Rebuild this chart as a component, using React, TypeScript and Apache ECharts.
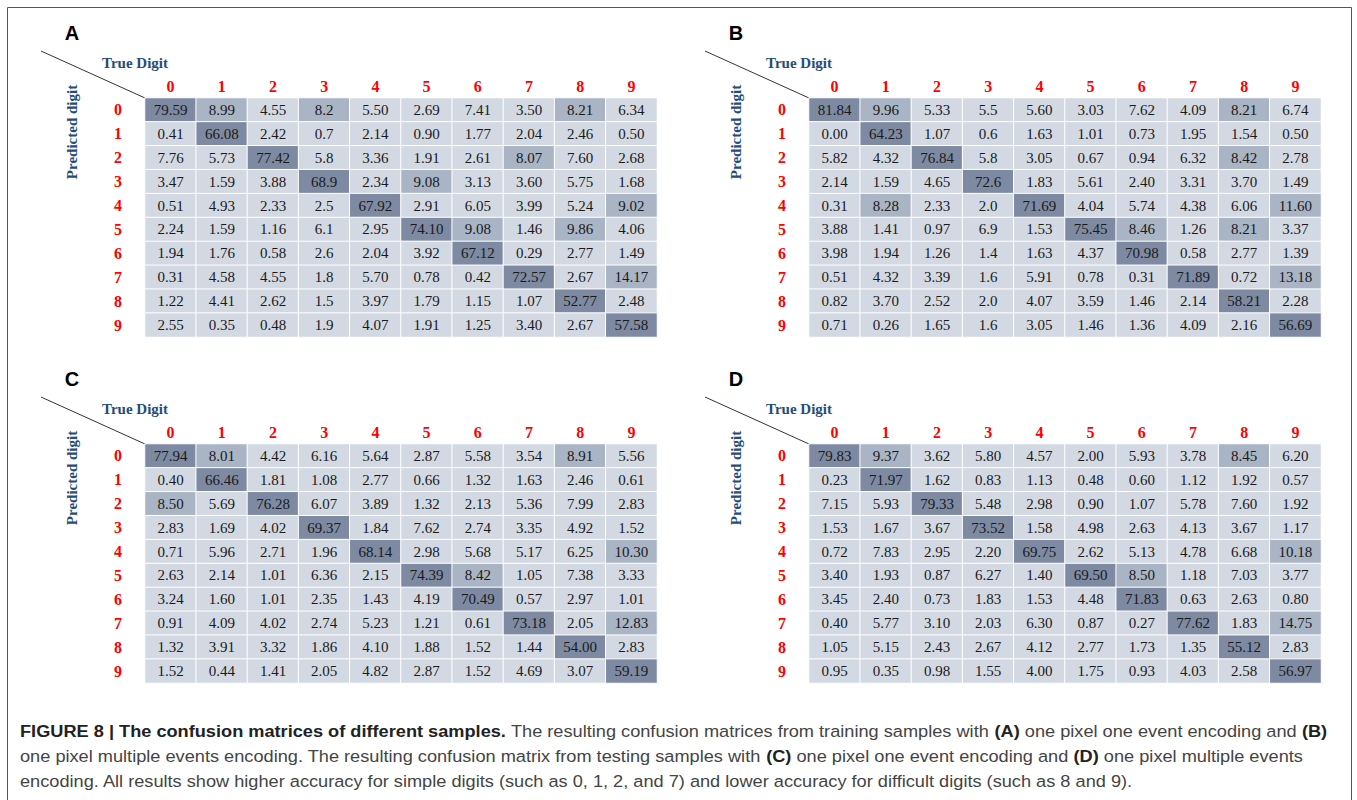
import React, { useEffect, useRef } from "react";
import * as echarts from "echarts";

const digits = ["0", "1", "2", "3", "4", "5", "6", "7", "8", "9"];
const panelLetters = ["A", "B", "C", "D"];

const matrixA = [
  ["79.59", "8.99", "4.55", "8.2", "5.50", "2.69", "7.41", "3.50", "8.21", "6.34"],
  ["0.41", "66.08", "2.42", "0.7", "2.14", "0.90", "1.77", "2.04", "2.46", "0.50"],
  ["7.76", "5.73", "77.42", "5.8", "3.36", "1.91", "2.61", "8.07", "7.60", "2.68"],
  ["3.47", "1.59", "3.88", "68.9", "2.34", "9.08", "3.13", "3.60", "5.75", "1.68"],
  ["0.51", "4.93", "2.33", "2.5", "67.92", "2.91", "6.05", "3.99", "5.24", "9.02"],
  ["2.24", "1.59", "1.16", "6.1", "2.95", "74.10", "9.08", "1.46", "9.86", "4.06"],
  ["1.94", "1.76", "0.58", "2.6", "2.04", "3.92", "67.12", "0.29", "2.77", "1.49"],
  ["0.31", "4.58", "4.55", "1.8", "5.70", "0.78", "0.42", "72.57", "2.67", "14.17"],
  ["1.22", "4.41", "2.62", "1.5", "3.97", "1.79", "1.15", "1.07", "52.77", "2.48"],
  ["2.55", "0.35", "0.48", "1.9", "4.07", "1.91", "1.25", "3.40", "2.67", "57.58"],
];

const matrixB = [
  ["81.84", "9.96", "5.33", "5.5", "5.60", "3.03", "7.62", "4.09", "8.21", "6.74"],
  ["0.00", "64.23", "1.07", "0.6", "1.63", "1.01", "0.73", "1.95", "1.54", "0.50"],
  ["5.82", "4.32", "76.84", "5.8", "3.05", "0.67", "0.94", "6.32", "8.42", "2.78"],
  ["2.14", "1.59", "4.65", "72.6", "1.83", "5.61", "2.40", "3.31", "3.70", "1.49"],
  ["0.31", "8.28", "2.33", "2.0", "71.69", "4.04", "5.74", "4.38", "6.06", "11.60"],
  ["3.88", "1.41", "0.97", "6.9", "1.53", "75.45", "8.46", "1.26", "8.21", "3.37"],
  ["3.98", "1.94", "1.26", "1.4", "1.63", "4.37", "70.98", "0.58", "2.77", "1.39"],
  ["0.51", "4.32", "3.39", "1.6", "5.91", "0.78", "0.31", "71.89", "0.72", "13.18"],
  ["0.82", "3.70", "2.52", "2.0", "4.07", "3.59", "1.46", "2.14", "58.21", "2.28"],
  ["0.71", "0.26", "1.65", "1.6", "3.05", "1.46", "1.36", "4.09", "2.16", "56.69"],
];

const matrixC = [
  ["77.94", "8.01", "4.42", "6.16", "5.64", "2.87", "5.58", "3.54", "8.91", "5.56"],
  ["0.40", "66.46", "1.81", "1.08", "2.77", "0.66", "1.32", "1.63", "2.46", "0.61"],
  ["8.50", "5.69", "76.28", "6.07", "3.89", "1.32", "2.13", "5.36", "7.99", "2.83"],
  ["2.83", "1.69", "4.02", "69.37", "1.84", "7.62", "2.74", "3.35", "4.92", "1.52"],
  ["0.71", "5.96", "2.71", "1.96", "68.14", "2.98", "5.68", "5.17", "6.25", "10.30"],
  ["2.63", "2.14", "1.01", "6.36", "2.15", "74.39", "8.42", "1.05", "7.38", "3.33"],
  ["3.24", "1.60", "1.01", "2.35", "1.43", "4.19", "70.49", "0.57", "2.97", "1.01"],
  ["0.91", "4.09", "4.02", "2.74", "5.23", "1.21", "0.61", "73.18", "2.05", "12.83"],
  ["1.32", "3.91", "3.32", "1.86", "4.10", "1.88", "1.52", "1.44", "54.00", "2.83"],
  ["1.52", "0.44", "1.41", "2.05", "4.82", "2.87", "1.52", "4.69", "3.07", "59.19"],
];

const matrixD = [
  ["79.83", "9.37", "3.62", "5.80", "4.57", "2.00", "5.93", "3.78", "8.45", "6.20"],
  ["0.23", "71.97", "1.62", "0.83", "1.13", "0.48", "0.60", "1.12", "1.92", "0.57"],
  ["7.15", "5.93", "79.33", "5.48", "2.98", "0.90", "1.07", "5.78", "7.60", "1.92"],
  ["1.53", "1.67", "3.67", "73.52", "1.58", "4.98", "2.63", "4.13", "3.67", "1.17"],
  ["0.72", "7.83", "2.95", "2.20", "69.75", "2.62", "5.13", "4.78", "6.68", "10.18"],
  ["3.40", "1.93", "0.87", "6.27", "1.40", "69.50", "8.50", "1.18", "7.03", "3.77"],
  ["3.45", "2.40", "0.73", "1.83", "1.53", "4.48", "71.83", "0.63", "2.63", "0.80"],
  ["0.40", "5.77", "3.10", "2.03", "6.30", "0.87", "0.27", "77.62", "1.83", "14.75"],
  ["1.05", "5.15", "2.43", "2.67", "4.12", "2.77", "1.73", "1.35", "55.12", "2.83"],
  ["0.95", "0.35", "0.98", "1.55", "4.00", "1.75", "0.93", "4.03", "2.58", "56.97"],
];

const matrices = [matrixA, matrixB, matrixC, matrixD];

const captionLines = [
  "{b|FIGURE 8 | The confusion matrices of different samples.} The resulting confusion matrices from training samples with {b|(A)} one pixel one event encoding and {b|(B)}",
  "one pixel multiple events encoding. The resulting confusion matrix from testing samples with {b|(C)} one pixel one event encoding and {b|(D)} one pixel multiple events",
  "encoding. All results show higher accuracy for simple digits (such as 0, 1, 2, and 7) and lower accuracy for difficult digits (such as 8 and 9).",
];

const SERIF = "'Liberation Serif', 'Times New Roman', serif";
const SANS = "'Liberation Sans', Arial, sans-serif";

export default function App() {
  const ref = useRef<HTMLDivElement>(null);

  useEffect(() => {
    if (!ref.current) return;
    const chart = echarts.init(ref.current, null, { renderer: "svg" });

    const lefts = [145, 809, 145, 809];
    const tops = [98, 98, 444, 444];
    const W = 512;
    const H = 239;

    const grids = lefts.map((l, i) => ({ left: l, top: tops[i], width: W, height: H }));

    const xAxes = grids.map((_, i) => ({
      type: "category",
      gridIndex: i,
      position: "top",
      data: digits,
      axisLine: { show: false },
      axisTick: { show: false },
      splitLine: { show: false },
      axisLabel: {
        color: "#ff0000",
        fontFamily: SERIF,
        fontWeight: "bold",
        fontSize: 16,
        margin: 4,
      },
    }));

    const yAxes = grids.map((_, i) => ({
      type: "category",
      gridIndex: i,
      inverse: true,
      data: digits,
      axisLine: { show: false },
      axisTick: { show: false },
      splitLine: { show: false },
      axisLabel: {
        color: "#ff0000",
        fontFamily: SERIF,
        fontWeight: "bold",
        fontSize: 16,
        margin: 23,
      },
    }));

    const series = matrices.map((m, k) => {
      const data: any[] = [];
      m.forEach((row, i) =>
        row.forEach((s, j) => {
          data.push([j, i, parseFloat(s)]);
        })
      );
      return {
        type: "heatmap",
        xAxisIndex: k,
        yAxisIndex: k,
        data,
        itemStyle: { borderColor: "#ffffff", borderWidth: 1 },
        label: {
          show: true,
          color: "#1a1a1a",
          fontFamily: SERIF,
          fontSize: 15,
          formatter: (p: any) => m[p.value[1]][p.value[0]],
        },
        emphasis: { disabled: true },
      };
    });

    const graphics: any[] = [];
    lefts.forEach((l, k) => {
      const t = tops[k];
      graphics.push({
        type: "text",
        x: l - 73,
        y: t - 65,
        style: {
          text: panelLetters[k],
          font: `bold 20px ${SANS}`,
          fill: "#000",
          textAlign: "center",
          textVerticalAlign: "middle",
        },
      });
      graphics.push({
        type: "line",
        shape: { x1: l - 104, y1: t - 47, x2: l, y2: t },
        style: { stroke: "#333", lineWidth: 1 },
      });
      graphics.push({
        type: "text",
        x: l - 43,
        y: t - 35,
        style: {
          text: "True Digit",
          font: `bold 15px ${SERIF}`,
          fill: "#1f4e79",
          textAlign: "left",
          textVerticalAlign: "middle",
        },
      });
      graphics.push({
        type: "text",
        x: l - 73,
        y: t + 34,
        rotation: Math.PI / 2,
        style: {
          text: "Predicted digit",
          font: `bold 15px ${SERIF}`,
          fill: "#1f4e79",
          textAlign: "center",
          textVerticalAlign: "middle",
        },
      });
    });

    graphics.push({
      type: "rect",
      shape: { x: 7.5, y: 7.5, width: 1344, height: 800 },
      style: { fill: "none", stroke: "#555", lineWidth: 1 },
    });

    captionLines.forEach((line, i) => {
      graphics.push({
        type: "text",
        x: 20,
        y: 731 + i * 25,
        scaleX: 1.07,
        style: {
          text: line,
          font: `17px ${SANS}`,
          fill: "#444",
          textVerticalAlign: "middle",
          rich: {
            b: { font: `bold 17px ${SANS}`, fill: "#222" },
          },
        },
      });
    });

    chart.setOption({
      animation: false,
      backgroundColor: "#ffffff",
      grid: grids,
      xAxis: xAxes,
      yAxis: yAxes,
      visualMap: {
        type: "piecewise",
        show: false,
        seriesIndex: [0, 1, 2, 3],
        dimension: 2,
        pieces: [
          { lt: 8, color: "#d3d9e2" },
          { gte: 8, lt: 50, color: "#a9b4c4" },
          { gte: 50, color: "#7d8aa2" },
        ],
      },
      series,
      graphic: graphics,
    });

    return () => chart.dispose();
  }, []);

  return (
    <div
      ref={ref}
      style={{ position: "absolute", left: 0, top: 0, width: 1357, height: 800 }}
    />
  );
}
